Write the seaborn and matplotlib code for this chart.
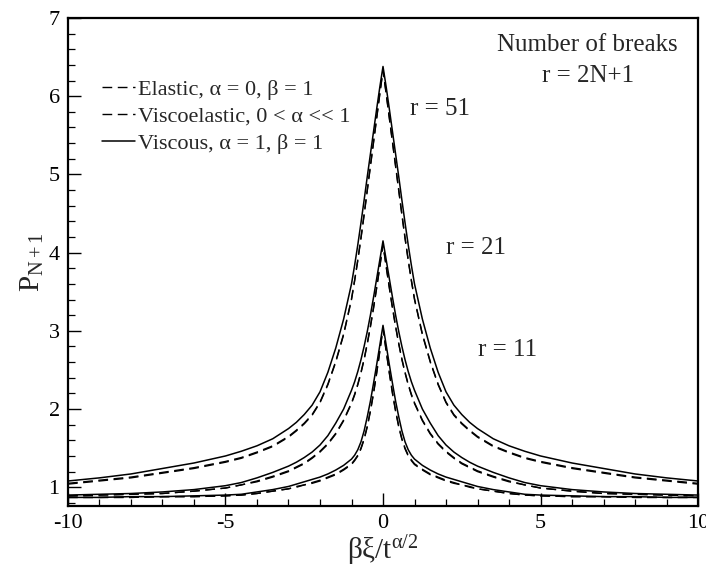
import numpy as np
import matplotlib
matplotlib.use("Agg")
import matplotlib.pyplot as plt
import seaborn as sns

# Half-profile abscissae (the curves are symmetric about 0)
xi = [0.0, 0.1, 0.2, 0.3, 0.4, 0.5, 0.6, 0.7, 0.8, 0.9, 1.0,
      1.25, 1.5, 1.75, 2.0, 2.25, 2.5, 2.75, 3.0,
      3.5, 4.0, 4.5, 5.0, 6.0, 7.0, 8.0, 9.0, 10.0]

# r = 51
viscous_51 = [6.38, 6.12, 5.84, 5.55, 5.26, 4.97, 4.67, 4.38, 4.10, 3.84, 3.60,
              3.15, 2.78, 2.47, 2.22, 2.05, 1.93, 1.83, 1.75,
              1.62, 1.53, 1.46, 1.40, 1.31, 1.24, 1.17, 1.12, 1.08]
elastic_51 = [6.33, 6.03, 5.72, 5.41, 5.10, 4.79, 4.48, 4.18, 3.90, 3.64, 3.40,
              2.95, 2.60, 2.31, 2.08, 1.92, 1.81, 1.72, 1.64,
              1.52, 1.44, 1.37, 1.32, 1.24, 1.18, 1.12, 1.08, 1.04]
viscoel_51 = [6.34, 6.04, 5.73, 5.42, 5.11, 4.80, 4.49, 4.19, 3.91, 3.65, 3.41,
              2.96, 2.61, 2.32, 2.09, 1.93, 1.82, 1.73, 1.65,
              1.53, 1.45, 1.38, 1.33, 1.25, 1.19, 1.13, 1.09, 1.05]

# r = 21
viscous_21 = [4.15, 3.91, 3.67, 3.43, 3.20, 2.99, 2.80, 2.63, 2.48, 2.35, 2.24,
              2.00, 1.82, 1.66, 1.54, 1.45, 1.38, 1.32, 1.27,
              1.19, 1.12, 1.06, 1.02, 0.97, 0.94, 0.92, 0.91, 0.90]
elastic_21 = [4.10, 3.82, 3.55, 3.29, 3.05, 2.83, 2.63, 2.46, 2.31, 2.18, 2.07,
              1.85, 1.68, 1.55, 1.45, 1.37, 1.30, 1.25, 1.20,
              1.13, 1.07, 1.03, 0.99, 0.95, 0.92, 0.91, 0.90, 0.89]
viscoel_21 = [4.11, 3.83, 3.56, 3.30, 3.06, 2.84, 2.64, 2.47, 2.32, 2.19, 2.08,
              1.86, 1.69, 1.56, 1.46, 1.38, 1.31, 1.26, 1.21,
              1.14, 1.08, 1.03, 0.99, 0.95, 0.92, 0.91, 0.90, 0.89]

# r = 11
viscous_11 = [3.07, 2.82, 2.57, 2.33, 2.10, 1.90, 1.72, 1.58, 1.48, 1.41, 1.36,
              1.28, 1.22, 1.17, 1.13, 1.10, 1.07, 1.04, 1.01,
              0.97, 0.94, 0.91, 0.90, 0.89, 0.88, 0.88, 0.87, 0.87]
elastic_11 = [3.03, 2.74, 2.46, 2.20, 1.97, 1.77, 1.61, 1.49, 1.40, 1.34, 1.29,
              1.22, 1.16, 1.12, 1.08, 1.05, 1.03, 1.00, 0.98,
              0.95, 0.92, 0.90, 0.89, 0.88, 0.88, 0.87, 0.87, 0.87]
viscoel_11 = [3.04, 2.75, 2.47, 2.21, 1.98, 1.78, 1.62, 1.50, 1.41, 1.35, 1.30,
              1.23, 1.17, 1.13, 1.09, 1.06, 1.03, 1.01, 0.98,
              0.95, 0.92, 0.90, 0.89, 0.88, 0.88, 0.87, 0.87, 0.87]

legend_labels = ["Elastic, α = 0, β = 1",
                 "Viscoelastic, 0 < α << 1",
                 "Viscous, α = 1, β = 1"]


def mirror(x, y):
    x = np.asarray(x)
    y = np.asarray(y)
    return (np.concatenate([-x[::-1], x[1:]]),
            np.concatenate([y[::-1], y[1:]]))


sns.set_theme(style="ticks")
plt.rcParams["font.family"] = ["Liberation Serif", "DejaVu Serif"]
plt.rcParams["mathtext.fontset"] = "custom"
plt.rcParams["mathtext.rm"] = "Liberation Serif"
plt.rcParams["mathtext.it"] = "Liberation Serif:italic"
plt.rcParams["axes.unicode_minus"] = False

fig = plt.figure(figsize=(7.06, 5.73), dpi=100)
ax = fig.add_axes([0.0963, 0.1169, 0.8924, 0.8517])

styles = {
    "elastic": dict(linestyle=(0, (7, 4)), linewidth=1.0),
    "viscoel": dict(linestyle=(0, (7, 4)), linewidth=1.0),
    "viscous": dict(linestyle="-", linewidth=1.1),
}
series = [
    ("elastic", elastic_51, 0), ("viscoel", viscoel_51, 1), ("viscous", viscous_51, 2),
    ("elastic", elastic_21, None), ("viscoel", viscoel_21, None), ("viscous", viscous_21, None),
    ("elastic", elastic_11, None), ("viscoel", viscoel_11, None), ("viscous", viscous_11, None),
]
for kind, vals, lab in series:
    xx, yy = mirror(xi, vals)
    sns.lineplot(x=xx, y=yy, ax=ax, color="black", estimator=None, sort=False,
                 label=legend_labels[lab] if lab is not None else None,
                 **styles[kind])

ax.set_xlim(-10, 10)
ax.set_ylim(0.76, 7)
ax.set_xticks([-10, -5, 0, 5, 10])
ax.set_xticks(np.arange(-10, 11, 1), minor=True)
ax.set_yticks([1, 2, 3, 4, 5, 6, 7])
ax.set_yticks(np.arange(0.8, 7.0, 0.2), minor=True)
ax.tick_params(which="both", direction="in", colors="black", labelsize=16,
               top=False, right=False)
ax.tick_params(which="major", length=9.5, width=1.0, pad=6)
ax.tick_params(which="minor", length=5, width=0.9)
for sp in ax.spines.values():
    sp.set_linewidth(1.6)
    sp.set_color("black")
    sp.set_visible(True)

ax.set_xlabel(r"$\mathrm{βξ/t^{α/2}}$", fontsize=21, labelpad=0)
ax.set_ylabel(r"$\mathrm{P_{N+1}}$", fontsize=21, labelpad=2)

leg = ax.legend(loc="upper left", bbox_to_anchor=(0.04, 0.893), frameon=False,
                fontsize=16, handlelength=1.5, handletextpad=0.1,
                labelspacing=0.3, borderaxespad=0)

ax.text(0.825, 0.945, "Number of breaks", transform=ax.transAxes, fontsize=18,
        ha="center", va="center")
ax.text(0.825, 0.881, "r = 2N+1", transform=ax.transAxes, fontsize=18,
        ha="center", va="center")
ax.text(0.86, 5.83, "r = 51", fontsize=18, ha="left", va="center")
ax.text(2.0, 4.06, "r = 21", fontsize=18, ha="left", va="center")
ax.text(3.02, 2.76, "r = 11", fontsize=18, ha="left", va="center")

fig.savefig("out.png", dpi=100)
